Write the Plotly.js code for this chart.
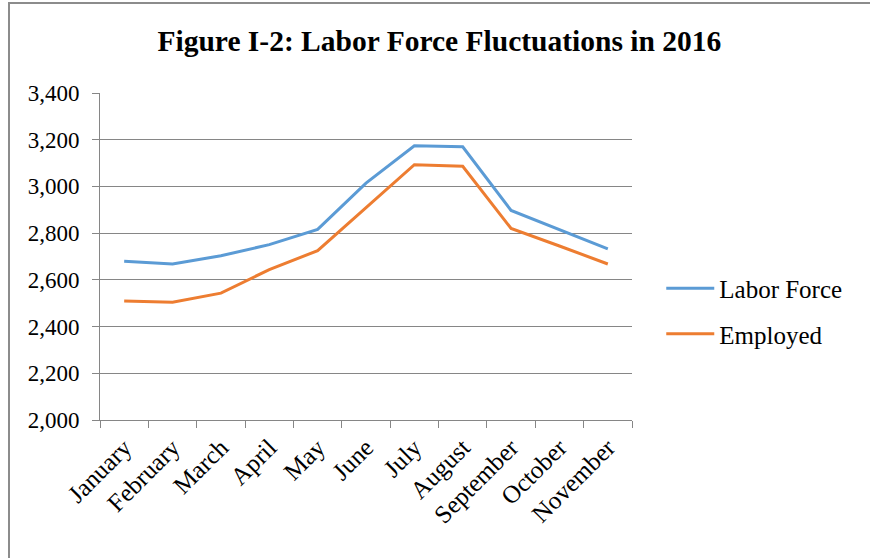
<!DOCTYPE html>
<html>
<head>
<meta charset="utf-8">
<script src="https://cdn.plot.ly/plotly-3.0.1.min.js"></script>
<style>
html,body{margin:0;padding:0;background:#fff;}
#wrap{position:relative;width:870px;height:558px;overflow:hidden;}
#frame{position:absolute;left:8px;top:2px;width:870px;height:600px;border-left:2px solid #8c8c8c;border-top:2px solid #8c8c8c;pointer-events:none;}
#chart{position:absolute;left:0;top:0;width:870px;height:558px;}
</style>
</head>
<body>
<div id="wrap">
<div id="chart"></div>
<div id="frame"></div>
</div>
<script>
const months = ["January","February","March","April","May","June","July","August","September","October","November"];
const laborForce = [2680, 2668, 2703, 2751, 2816, 3014, 3174, 3170, 2897, 2815, 2733];
const employed = [2510, 2504, 2543, 2644, 2725, 2908, 3093, 3086, 2820, 2745, 2668];
const yTicks = [2000, 2200, 2400, 2600, 2800, 3000, 3200, 3400];

const serif = "Liberation Serif, Times New Roman, serif";

const traces = [
  {x: months, y: laborForce, name: "Labor Force", type: "scatter", mode: "lines",
   line: {color: "#5B9BD5", width: 3}, legendgroup: "a"},
  {x: months, y: employed, name: "Employed", type: "scatter", mode: "lines",
   line: {color: "#ED7D31", width: 3}, legendgroup: "b"}
];

const layout = {
  width: 870, height: 558,
  margin: {l: 100, r: 238, t: 93, b: 138},
  paper_bgcolor: "rgba(0,0,0,0)", plot_bgcolor: "#fff",
  font: {family: serif, color: "#000", size: 23},
  title: {text: "<b>Figure I-2: Labor Force Fluctuations in 2016</b>",
          font: {family: serif, size: 29.5, color: "#000"},
          x: 0.505, xref: "container", xanchor: "center",
          y: 0.927, yref: "container", yanchor: "middle"},
  xaxis: {type: "category", range: [-0.5, 10.5], showgrid: false,
          showline: true, linecolor: "#868686", linewidth: 1,
          ticks: "outside", tickson: "boundaries", ticklen: 7, tickcolor: "#868686",
          tickangle: -45, ticklabelstandoff: 2,
          tickfont: {family: serif, size: 25, color: "#000"}},
  yaxis: {range: [2000, 3400], tickvals: yTicks, tickformat: ",d",
          showgrid: true, gridcolor: "#868686", gridwidth: 1,
          showline: true, linecolor: "#868686", linewidth: 1,
          ticks: "outside", ticklen: 7, tickcolor: "#868686",
          ticklabelstandoff: 8,
          zeroline: false, tickfont: {family: serif, size: 23, color: "#000"}},
  showlegend: true,
  legend: {x: 1.055, xanchor: "left", y: 0.333, yanchor: "middle",
           font: {family: serif, size: 25, color: "#000"}, itemwidth: 48,
           tracegroupgap: 10, traceorder: "grouped", bgcolor: "rgba(0,0,0,0)"}
};

Plotly.newPlot("chart", traces, layout, {displayModeBar: false, staticPlot: true});
</script>
</body>
</html>
